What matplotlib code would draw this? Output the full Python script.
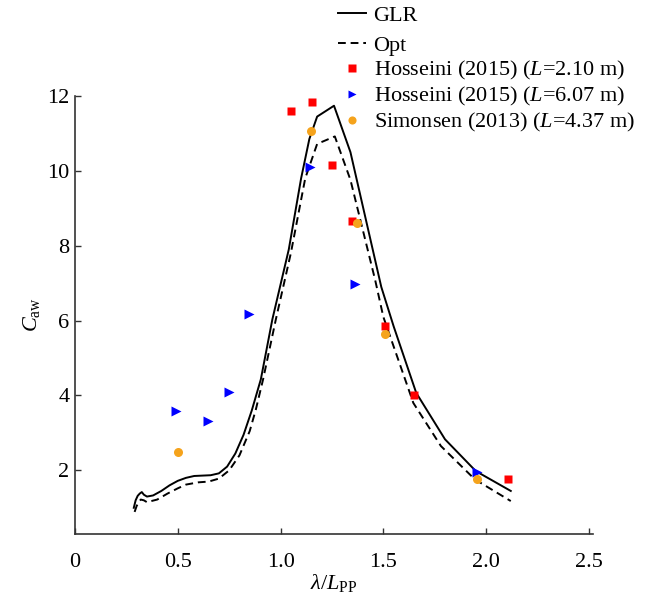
import matplotlib
matplotlib.use("Agg")
import matplotlib.pyplot as plt

plt.rcParams['font.family'] = ['Liberation Serif', 'DejaVu Serif']
plt.rcParams['mathtext.fontset'] = 'custom'
plt.rcParams['mathtext.rm'] = 'Liberation Serif'
plt.rcParams['mathtext.it'] = 'Liberation Serif:italic'
plt.rcParams['mathtext.bf'] = 'Liberation Serif:bold'

# GLR curve
glr_x = [0.286, 0.295, 0.305, 0.315, 0.325, 0.335, 0.35, 0.38, 0.42, 0.46, 0.50, 0.54,
         0.58, 0.62, 0.66, 0.70, 0.74, 0.78, 0.82, 0.86, 0.904, 0.96, 1.04, 1.10, 1.14,
         1.178, 1.26, 1.34, 1.49, 1.55, 1.66, 1.80, 1.95, 2.12]
glr_y = [1.0, 1.2, 1.32, 1.38, 1.42, 1.35, 1.30, 1.33, 1.45, 1.60, 1.72, 1.80,
         1.85, 1.86, 1.87, 1.92, 2.10, 2.45, 2.95, 3.60, 4.43, 6.03, 7.90, 9.80, 10.85,
         11.45, 11.74, 10.50, 6.90, 5.85, 4.07, 2.83, 1.98, 1.45]

# Opt curve
opt_x = [0.29, 0.30, 0.31, 0.32, 0.335, 0.35, 0.40, 0.45, 0.50, 0.54, 0.60, 0.65, 0.70,
         0.75, 0.80, 0.85, 0.88, 0.915, 0.977, 1.05, 1.12, 1.178, 1.264, 1.34, 1.46, 1.50,
         1.646, 1.78, 1.945, 2.12]
opt_y = [0.89, 1.05, 1.15, 1.22, 1.20, 1.15, 1.22, 1.38, 1.52, 1.62, 1.68, 1.70, 1.78,
         2.00, 2.40, 3.05, 3.63, 4.43, 6.03, 7.80, 9.80, 10.72, 10.92, 9.76, 7.09, 6.10,
         3.80, 2.65, 1.76, 1.18]

# Experimental data
h210_x = [1.049, 1.151, 1.251, 1.348, 1.506, 1.651, 2.107]
h210_y = [11.61, 11.85, 10.16, 8.65, 5.85, 4.00, 1.76]

h607_x = [0.492, 0.646, 0.75, 0.847, 1.143, 1.364, 1.956]
h607_y = [3.58, 3.31, 4.09, 6.18, 10.11, 6.98, 1.95]

sim_x = [0.50, 1.149, 1.372, 1.506, 1.956]
sim_y = [2.50, 11.07, 8.60, 5.65, 1.78]

x_ticks = [0, 0.5, 1.0, 1.5, 2.0, 2.5]
x_ticklabels = ['0', '0.5', '1.0', '1.5', '2.0', '2.5']
y_ticks = [2, 4, 6, 8, 10, 12]
y_ticklabels = ['2', '4', '6', '8', '10', '12']

fig = plt.figure(figsize=(6.45, 5.98), dpi=100)
ax = fig.add_axes([75/645, 1 - 534/598, (593 - 75)/645, (534 - 96)/598])

l_glr, = ax.plot(glr_x, glr_y, color='black', lw=1.4, label='GLR')
l_opt, = ax.plot(opt_x, opt_y, color='black', lw=1.4, linestyle=(0, (4, 2.5)), label='Opt')
m1, = ax.plot(h210_x, h210_y, 's', color='#ff0000', ms=6, mec='none',
              label='Hosseini (2015) ($L$=2.10 m)')
m2, = ax.plot(h607_x, h607_y, '>', color='#0000ff', ms=6.5, mec='none',
              label='Hosseini (2015) ($L$=6.07 m)')
m3, = ax.plot(sim_x, sim_y, 'o', color='#f5a31c', ms=6.5, mec='none',
              label='Simonsen (2013) ($L$=4.37 m)')

ax.set_xlim(0, 2.52)
ax.set_ylim(0.3, 12.0)
ax.set_xticks(x_ticks)
ax.set_xticklabels(x_ticklabels)
ax.set_yticks(y_ticks)
ax.set_yticklabels(y_ticklabels)

for s in ['top', 'right']:
    ax.spines[s].set_visible(False)
for s in ['left', 'bottom']:
    ax.spines[s].set_color('#333333')
    ax.spines[s].set_linewidth(1.2)

ax.tick_params(direction='in', length=4, width=1.0, color='#333333',
               labelsize=16, labelcolor='black')
ax.tick_params(axis='x', pad=13.5)
ax.tick_params(axis='y', pad=4)

ax.set_xlabel(r'$\lambda/L_{\mathrm{PP}}$', fontsize=16, labelpad=0)
ax.set_ylabel(r'$C_{\mathrm{aw}}$', fontsize=16, labelpad=4)

common = dict(loc='upper left', bbox_transform=fig.transFigure, frameon=False,
              fontsize=16, handlelength=1.25, handletextpad=0.35,
              borderpad=0, borderaxespad=0, markerscale=0.9)
leg1 = ax.legend(handles=[l_glr, l_opt], bbox_to_anchor=(338/645, 1 - 5/598),
                 labelspacing=0.45, **common)
ax.add_artist(leg1)
leg2 = ax.legend(handles=[m1, m2, m3], bbox_to_anchor=(338/645, 1 - 59/598),
                 labelspacing=0.13, **common)

fig.savefig('out.png', dpi=100)
